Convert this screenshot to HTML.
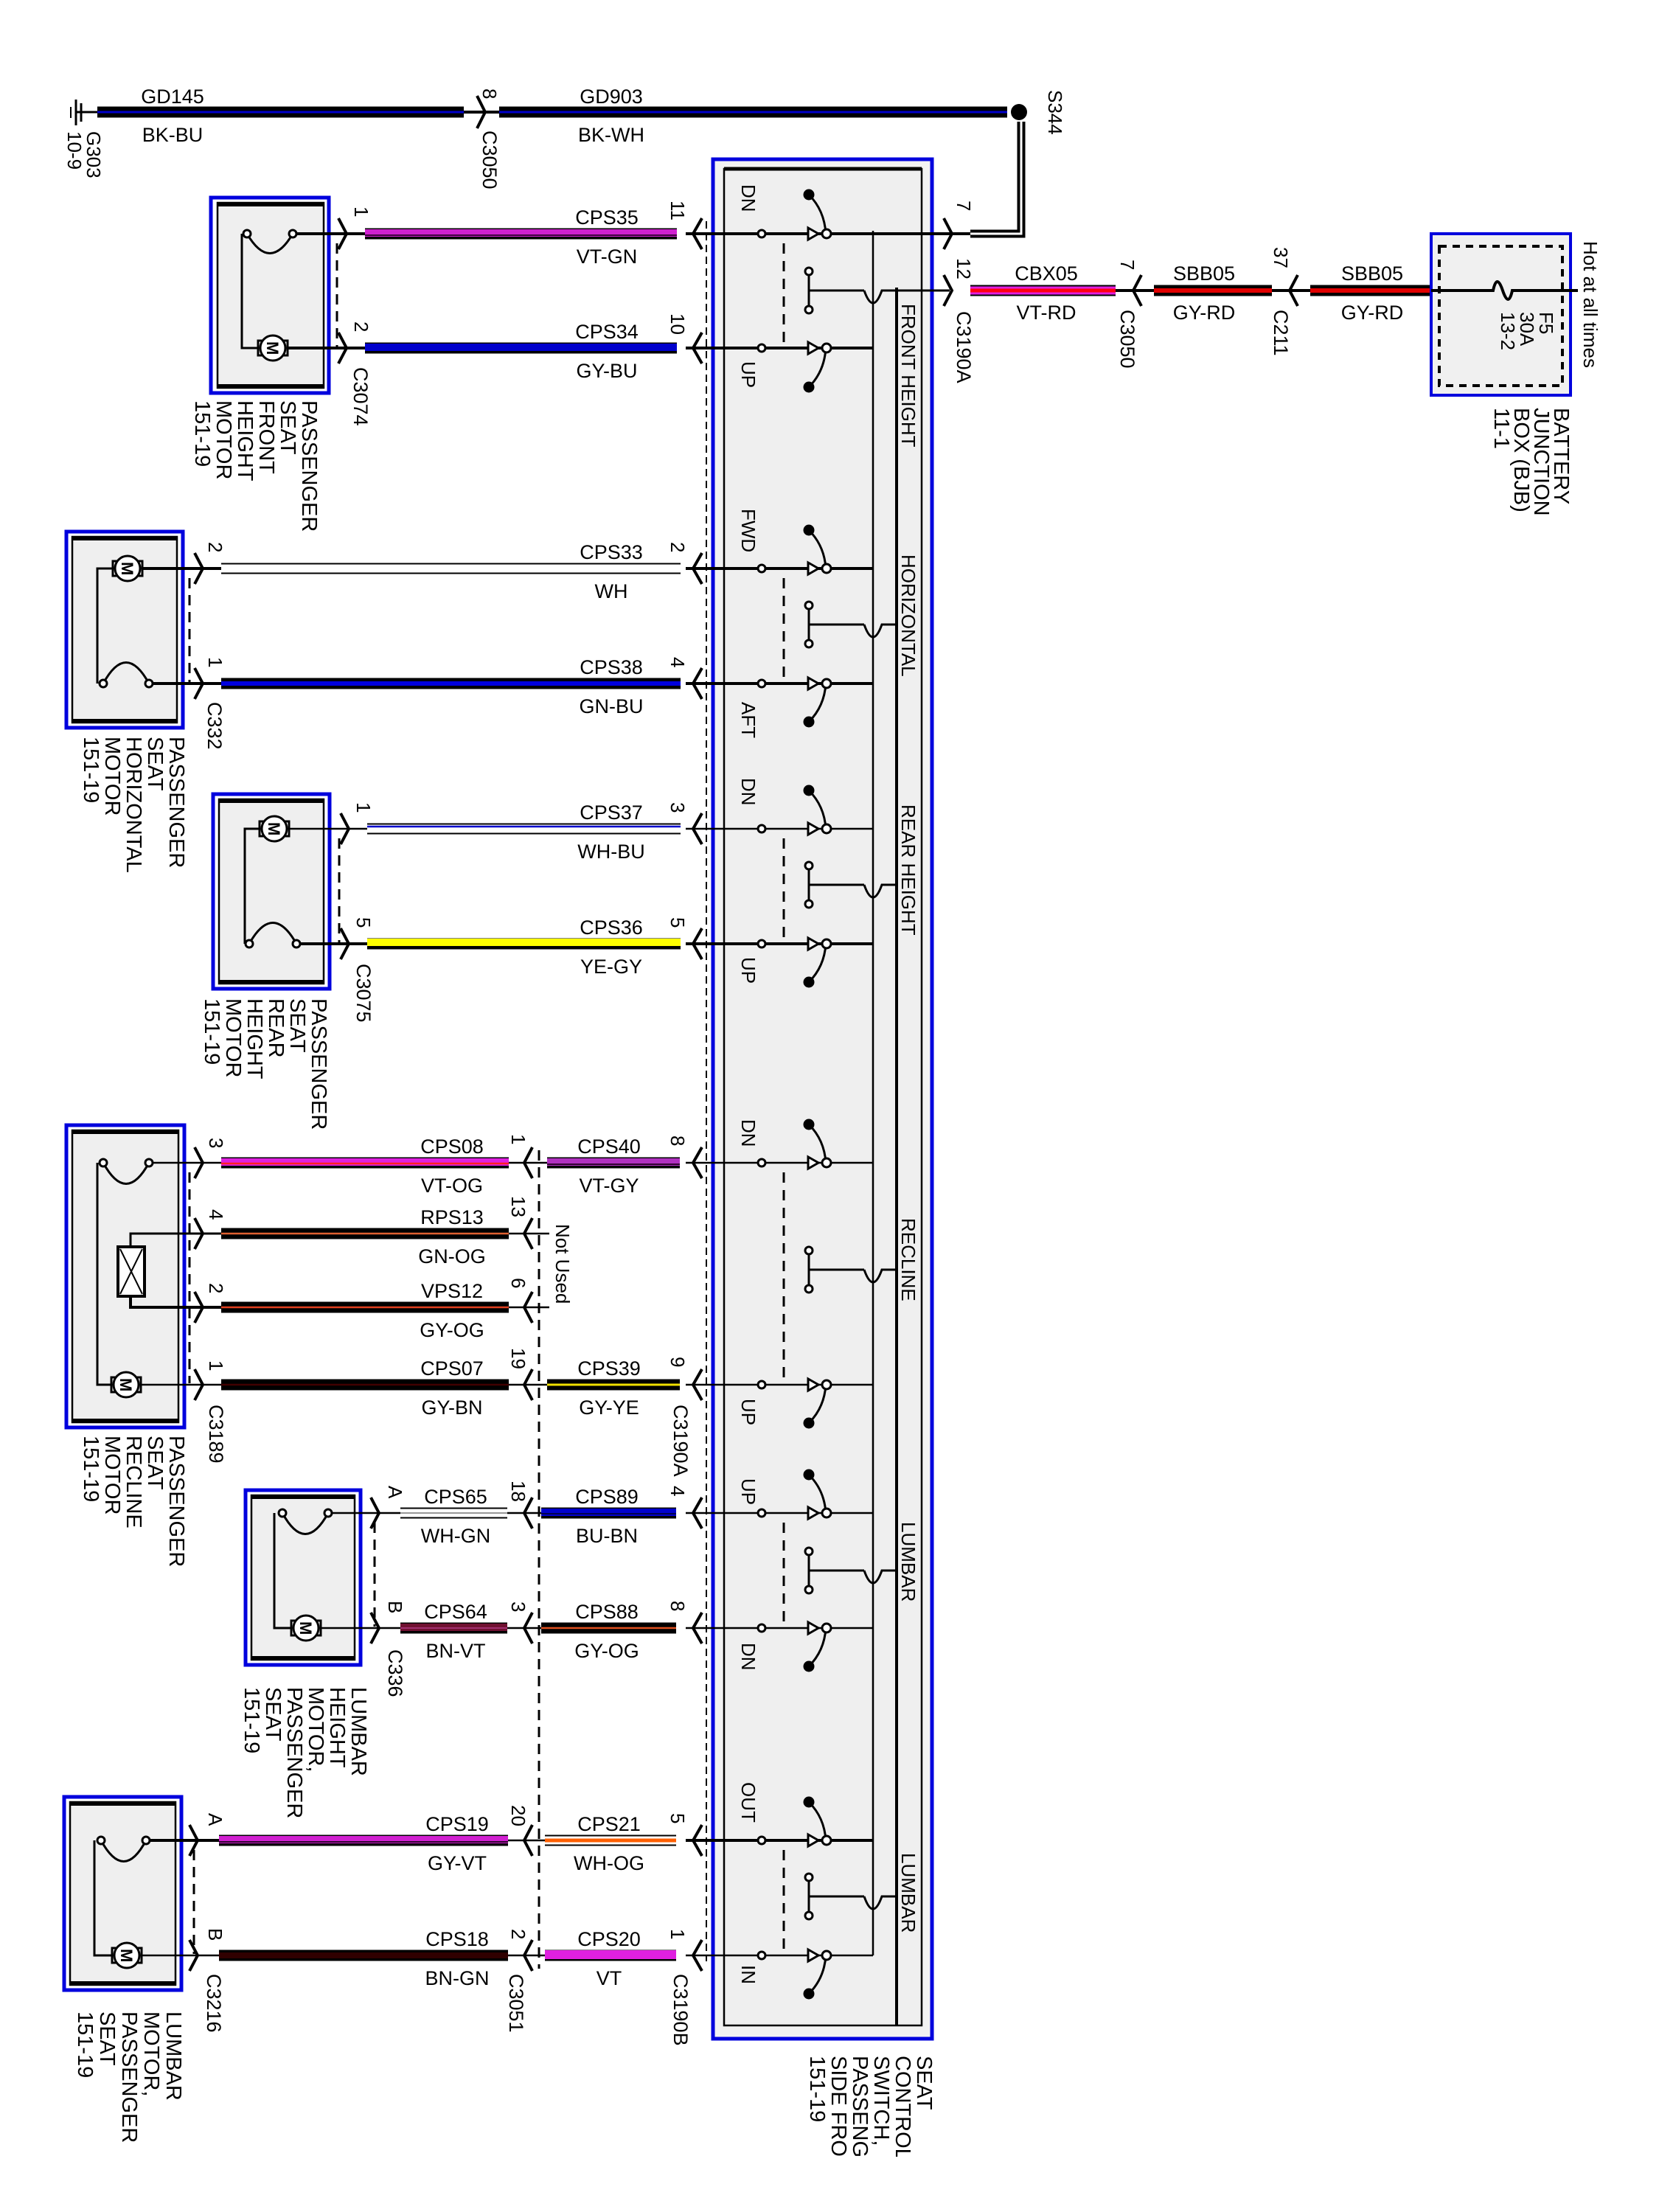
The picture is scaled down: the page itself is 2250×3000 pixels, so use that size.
<!DOCTYPE html>
<html><head><meta charset="utf-8"><style>
html,body{margin:0;padding:0;background:#fff;}
svg{display:block;}
text{font-family:"Liberation Sans",Arial,sans-serif;font-size:27px;fill:#000;}
.lb{font-size:29px;}
.sm{font-size:26px;}
</style></head><body>
<svg width="2250" height="3000" viewBox="0 0 2250 3000" xmlns="http://www.w3.org/2000/svg">
<defs>
<clipPath id="clipb"><rect x="0" y="0" width="2250" height="2925"/></clipPath>
</defs>

<!-- ===== GROUND / TOP ===== -->
<g stroke="#000" stroke-width="3">
<line x1="103" y1="135" x2="103" y2="170"/><line x1="110" y1="140" x2="110" y2="165"/><line x1="96" y1="145" x2="96" y2="160" stroke-width="2"/>
<line x1="103" y1="152" x2="132" y2="152"/>
</g>
<line x1="132" y1="152" x2="629" y2="152" stroke="#000" stroke-width="15"/>
<line x1="132" y1="152" x2="629" y2="152" stroke="#0000cc" stroke-width="3"/>
<line x1="629" y1="152" x2="677" y2="152" stroke="#000" stroke-width="4"/>
<path d="M647,130 L658,152 L647,174" fill="none" stroke="#000" stroke-width="4"/>
<line x1="677" y1="152" x2="1366" y2="152" stroke="#000" stroke-width="15"/>
<line x1="677" y1="152" x2="1366" y2="152" stroke="#0000cc" stroke-width="3"/>
<circle cx="1382" cy="152" r="11" fill="#000"/>
<path d="M1385,165 L1385,317 L1316,317" fill="none" stroke="#000" stroke-width="11"/>
<path d="M1385,165 L1385,317 L1316,317" fill="none" stroke="#fff" stroke-width="3"/>
<text transform="translate(118,178) rotate(90)" class="sm"><tspan x="0">G303</tspan><tspan x="0" dy="26">10-9</tspan></text>
<text x="234" y="140" text-anchor="middle">GD145</text>
<text x="234" y="192" text-anchor="middle">BK-BU</text>
<text x="829" y="140" text-anchor="middle">GD903</text>
<text x="829" y="192" text-anchor="middle">BK-WH</text>
<text transform="translate(655,120) rotate(90)" class="sm">8</text>
<text transform="translate(655,177) rotate(90)">C3050</text>
<text transform="translate(1422,122) rotate(90)" class="sm">S344</text>

<!-- ===== SWITCH BOX ===== -->
<rect x="967" y="216" width="297" height="2549" fill="#f2f2f2" stroke="#0000dd" stroke-width="5"/>
<rect x="982" y="229" width="268" height="2518" fill="#efefef" stroke="#000" stroke-width="2.5"/>
<line x1="982" y1="229" x2="1250" y2="229" stroke="#000" stroke-width="5"/>
<line x1="1184" y1="313" x2="1184" y2="2652" stroke="#000" stroke-width="2.5"/>
<line x1="1216" y1="390" x2="1216" y2="2747" stroke="#000" stroke-width="4"/>
<line x1="958" y1="300" x2="958" y2="2660" stroke="#000" stroke-width="2" stroke-dasharray="10,6"/>

<!-- switch rows -->
<g stroke="#000" fill="none">
<g stroke-width="4">
<line x1="930" y1="317" x2="1316" y2="317"/>
<line x1="930" y1="472" x2="1184" y2="472"/>
<line x1="930" y1="771" x2="1184" y2="771"/>
<line x1="930" y1="927" x2="1184" y2="927"/>
<line x1="930" y1="1280" x2="1184" y2="1280"/>
<line x1="930" y1="2496" x2="1184" y2="2496"/>
</g>
<g stroke-width="2.5">
<line x1="930" y1="1124" x2="1184" y2="1124"/>
<line x1="930" y1="1577" x2="1184" y2="1577"/>
<line x1="930" y1="1878" x2="1184" y2="1878"/>
<line x1="930" y1="2052" x2="1184" y2="2052"/>
<line x1="930" y1="2208" x2="1184" y2="2208"/>
<line x1="930" y1="2652" x2="1184" y2="2652"/>
</g>
<g stroke-width="4">
<path d="M952,296 L940,317 L952,338"/><path d="M952,451 L940,472 L952,493"/>
<path d="M952,750 L940,771 L952,792"/><path d="M952,906 L940,927 L952,948"/>
<path d="M952,1103 L940,1124 L952,1145"/><path d="M952,1259 L940,1280 L952,1301"/>
<path d="M952,1556 L940,1577 L952,1598"/><path d="M952,1857 L940,1878 L952,1899"/>
<path d="M952,2031 L940,2052 L952,2073"/><path d="M952,2187 L940,2208 L952,2229"/>
<path d="M952,2475 L940,2496 L952,2517"/><path d="M952,2631 L940,2652 L952,2673"/>
</g>
<g stroke-width="3" stroke-dasharray="14,10">
<line x1="1063" y1="330" x2="1063" y2="472"/>
<line x1="1063" y1="784" x2="1063" y2="927"/>
<line x1="1063" y1="1137" x2="1063" y2="1280"/>
<line x1="1063" y1="1590" x2="1063" y2="1878"/>
<line x1="1063" y1="2065" x2="1063" y2="2208"/>
<line x1="1063" y1="2509" x2="1063" y2="2652"/>
</g>
<g stroke-width="3">
<path d="M1097,264 Q1118,285 1120,317"/><path d="M1097,719 Q1118,740 1120,771"/><path d="M1097,1072 Q1118,1093 1120,1124"/>
<path d="M1097,1525 Q1118,1546 1120,1577"/><path d="M1097,2000 Q1118,2021 1120,2052"/><path d="M1097,2444 Q1118,2465 1120,2496"/>
<path d="M1097,525 Q1118,504 1120,472"/><path d="M1097,979 Q1118,958 1120,927"/><path d="M1097,1332 Q1118,1311 1120,1280"/>
<path d="M1097,1930 Q1118,1909 1120,1878"/><path d="M1097,2260 Q1118,2239 1120,2208"/><path d="M1097,2704 Q1118,2683 1120,2652"/>
</g>
<g stroke-width="3">
<line x1="1097" y1="368" x2="1097" y2="420"/><line x1="1097" y1="394" x2="1172" y2="394"/><path d="M1172,394 Q1184,428 1196,394 L1288,394"/>
<line x1="1097" y1="821" x2="1097" y2="873"/><line x1="1097" y1="847" x2="1172" y2="847"/><path d="M1172,847 Q1184,881 1196,847 L1216,847"/>
<line x1="1097" y1="1174" x2="1097" y2="1226"/><line x1="1097" y1="1200" x2="1172" y2="1200"/><path d="M1172,1200 Q1184,1234 1196,1200 L1216,1200"/>
<line x1="1097" y1="1696" x2="1097" y2="1748"/><line x1="1097" y1="1722" x2="1172" y2="1722"/><path d="M1172,1722 Q1184,1756 1196,1722 L1216,1722"/>
<line x1="1097" y1="2104" x2="1097" y2="2156"/><line x1="1097" y1="2130" x2="1172" y2="2130"/><path d="M1172,2130 Q1184,2164 1196,2130 L1216,2130"/>
<line x1="1097" y1="2546" x2="1097" y2="2598"/><line x1="1097" y1="2572" x2="1172" y2="2572"/><path d="M1172,2572 Q1184,2606 1196,2572 L1216,2572"/>
</g>
</g>
<g fill="#fff" stroke="#000" stroke-width="3">
<circle cx="1033" cy="317" r="5"/><circle cx="1033" cy="472" r="5"/><circle cx="1033" cy="771" r="5"/><circle cx="1033" cy="927" r="5"/>
<circle cx="1033" cy="1124" r="5"/><circle cx="1033" cy="1280" r="5"/><circle cx="1033" cy="1577" r="5"/><circle cx="1033" cy="1878" r="5"/>
<circle cx="1033" cy="2052" r="5"/><circle cx="1033" cy="2208" r="5"/><circle cx="1033" cy="2496" r="5"/><circle cx="1033" cy="2652" r="5"/>
<path d="M1096,309 L1110,317 L1096,325Z"/><circle cx="1121" cy="317" r="6"/><circle cx="1097" cy="264" r="6" fill="#000"/>
<path d="M1096,464 L1110,472 L1096,480Z"/><circle cx="1121" cy="472" r="6"/><circle cx="1097" cy="525" r="6" fill="#000"/>
<path d="M1096,763 L1110,771 L1096,779Z"/><circle cx="1121" cy="771" r="6"/><circle cx="1097" cy="719" r="6" fill="#000"/>
<path d="M1096,919 L1110,927 L1096,935Z"/><circle cx="1121" cy="927" r="6"/><circle cx="1097" cy="979" r="6" fill="#000"/>
<path d="M1096,1116 L1110,1124 L1096,1132Z"/><circle cx="1121" cy="1124" r="6"/><circle cx="1097" cy="1072" r="6" fill="#000"/>
<path d="M1096,1272 L1110,1280 L1096,1288Z"/><circle cx="1121" cy="1280" r="6"/><circle cx="1097" cy="1332" r="6" fill="#000"/>
<path d="M1096,1569 L1110,1577 L1096,1585Z"/><circle cx="1121" cy="1577" r="6"/><circle cx="1097" cy="1525" r="6" fill="#000"/>
<path d="M1096,1870 L1110,1878 L1096,1886Z"/><circle cx="1121" cy="1878" r="6"/><circle cx="1097" cy="1930" r="6" fill="#000"/>
<path d="M1096,2044 L1110,2052 L1096,2060Z"/><circle cx="1121" cy="2052" r="6"/><circle cx="1097" cy="2000" r="6" fill="#000"/>
<path d="M1096,2200 L1110,2208 L1096,2216Z"/><circle cx="1121" cy="2208" r="6"/><circle cx="1097" cy="2260" r="6" fill="#000"/>
<path d="M1096,2488 L1110,2496 L1096,2504Z"/><circle cx="1121" cy="2496" r="6"/><circle cx="1097" cy="2444" r="6" fill="#000"/>
<path d="M1096,2644 L1110,2652 L1096,2660Z"/><circle cx="1121" cy="2652" r="6"/><circle cx="1097" cy="2704" r="6" fill="#000"/>
<circle cx="1097" cy="368" r="5"/><circle cx="1097" cy="420" r="5"/>
<circle cx="1097" cy="821" r="5"/><circle cx="1097" cy="873" r="5"/>
<circle cx="1097" cy="1174" r="5"/><circle cx="1097" cy="1226" r="5"/>
<circle cx="1097" cy="1696" r="5"/><circle cx="1097" cy="1748" r="5"/>
<circle cx="1097" cy="2104" r="5"/><circle cx="1097" cy="2156" r="5"/>
<circle cx="1097" cy="2546" r="5"/><circle cx="1097" cy="2598" r="5"/>
</g>

<!-- switch labels -->
<text transform="translate(1006,250) rotate(90)" class="sm">DN</text>
<text transform="translate(1006,490) rotate(90)" class="sm">UP</text>
<text transform="translate(1006,690) rotate(90)" class="sm">FWD</text>
<text transform="translate(1006,952) rotate(90)" class="sm">AFT</text>
<text transform="translate(1006,1055) rotate(90)" class="sm">DN</text>
<text transform="translate(1006,1298) rotate(90)" class="sm">UP</text>
<text transform="translate(1006,1518) rotate(90)" class="sm">DN</text>
<text transform="translate(1006,1897) rotate(90)" class="sm">UP</text>
<text transform="translate(1006,2005) rotate(90)" class="sm">UP</text>
<text transform="translate(1006,2228) rotate(90)" class="sm">DN</text>
<text transform="translate(1006,2417) rotate(90)" class="sm">OUT</text>
<text transform="translate(1006,2665) rotate(90)" class="sm">IN</text>
<text transform="translate(1223,412) rotate(90)" class="sm">FRONT HEIGHT</text>
<text transform="translate(1223,752) rotate(90)" class="sm">HORIZONTAL</text>
<text transform="translate(1223,1091) rotate(90)" class="sm">REAR HEIGHT</text>
<text transform="translate(1223,1652) rotate(90)" class="sm">RECLINE</text>
<text transform="translate(1223,2064) rotate(90)" class="sm">LUMBAR</text>
<text transform="translate(1223,2513) rotate(90)" class="sm">LUMBAR</text>
<g clip-path="url(#clipb)">
<text transform="translate(1244,2788) rotate(90)" class="lb"><tspan x="0">SEAT</tspan><tspan x="0" dy="29">CONTROL</tspan><tspan x="0" dy="29">SWITCH,</tspan><tspan x="0" dy="29">PASSENGER</tspan><tspan x="0" dy="29">SIDE FRONT</tspan><tspan x="0" dy="29">151-19</tspan></text>
</g>

<path d="M1280,296 L1291,317 L1280,338" fill="none" stroke="#000" stroke-width="4"/>
<path d="M1280,373 L1291,394 L1280,415" fill="none" stroke="#000" stroke-width="4"/>
<text transform="translate(1298,272) rotate(90)" class="sm">7</text>
<text transform="translate(1298,350) rotate(90)" class="sm">12</text>
<text transform="translate(1298,422) rotate(90)">C3190A</text>

<!-- ===== RIGHT: BJB ===== -->
<line x1="1316" y1="394" x2="1513" y2="394" stroke="#000" stroke-width="15"/>
<line x1="1316" y1="394" x2="1513" y2="394" stroke="#e020e0" stroke-width="11"/>
<line x1="1316" y1="394" x2="1513" y2="394" stroke="#ff0010" stroke-width="5"/>
<line x1="1513" y1="394" x2="1565" y2="394" stroke="#000" stroke-width="4"/>
<path d="M1548,373 L1537,394 L1548,415" fill="none" stroke="#000" stroke-width="4"/>
<line x1="1565" y1="394" x2="1725" y2="394" stroke="#000" stroke-width="15"/>
<line x1="1565" y1="394" x2="1725" y2="394" stroke="#e00000" stroke-width="6"/>
<line x1="1725" y1="394" x2="1777" y2="394" stroke="#000" stroke-width="4"/>
<path d="M1760,373 L1749,394 L1760,415" fill="none" stroke="#000" stroke-width="4"/>
<line x1="1777" y1="394" x2="1941" y2="394" stroke="#000" stroke-width="15"/>
<line x1="1777" y1="394" x2="1941" y2="394" stroke="#e00000" stroke-width="6"/>
<text x="1419" y="380" text-anchor="middle">CBX05</text><text x="1419" y="433" text-anchor="middle">VT-RD</text>
<text x="1633" y="380" text-anchor="middle">SBB05</text><text x="1633" y="433" text-anchor="middle">GY-RD</text>
<text x="1861" y="380" text-anchor="middle">SBB05</text><text x="1861" y="433" text-anchor="middle">GY-RD</text>
<text transform="translate(1520,352) rotate(90)" class="sm">7</text>
<text transform="translate(1520,420) rotate(90)">C3050</text>
<text transform="translate(1728,335) rotate(90)" class="sm">37</text>
<text transform="translate(1728,420) rotate(90)">C211</text>
<rect x="1941" y="317" width="189" height="219" fill="#f0f0f0" stroke="#0000dd" stroke-width="4"/>
<rect x="1952" y="334" width="167" height="189" fill="none" stroke="#000" stroke-width="4" stroke-dasharray="10,8"/>
<path d="M1941,394 L2025,394 Q2030,370 2038,394 Q2046,418 2051,394 L2140,394" fill="none" stroke="#000" stroke-width="4"/>
<text transform="translate(2088,423) rotate(90)" class="sm"><tspan x="0">F5</tspan><tspan x="0" dy="26">30A</tspan><tspan x="0" dy="26">13-2</tspan></text>
<text transform="translate(2148,327) rotate(90)" class="sm">Hot at all times</text>
<text transform="translate(2108,553) rotate(90)" class="lb"><tspan x="0">BATTERY</tspan><tspan x="0" dy="27">JUNCTION</tspan><tspan x="0" dy="27">BOX (BJB)</tspan><tspan x="0" dy="27">11-1</tspan></text>

<!-- ===== COMPONENT BOXES ===== -->
<g stroke="#000" fill="none">
<rect x="286" y="268" width="160" height="265" fill="#fff" stroke="#0000dd" stroke-width="5"/>
<rect x="295" y="275" width="144" height="251" fill="#efefef" stroke-width="2.5"/>
<line x1="295" y1="277" x2="439" y2="277" stroke-width="6"/><line x1="295" y1="524" x2="439" y2="524" stroke-width="6"/>
<rect x="90" y="721" width="158" height="266" fill="#fff" stroke="#0000dd" stroke-width="5"/>
<rect x="98" y="728" width="142" height="252" fill="#efefef" stroke-width="2.5"/>
<line x1="98" y1="730" x2="240" y2="730" stroke-width="6"/><line x1="98" y1="978" x2="240" y2="978" stroke-width="6"/>
<rect x="289" y="1077" width="158" height="264" fill="#fff" stroke="#0000dd" stroke-width="5"/>
<rect x="297" y="1084" width="142" height="250" fill="#efefef" stroke-width="2.5"/>
<line x1="297" y1="1086" x2="439" y2="1086" stroke-width="6"/><line x1="297" y1="1332" x2="439" y2="1332" stroke-width="6"/>
<rect x="90" y="1526" width="160" height="410" fill="#fff" stroke="#0000dd" stroke-width="5"/>
<rect x="98" y="1533" width="144" height="396" fill="#efefef" stroke-width="2.5"/>
<line x1="98" y1="1535" x2="242" y2="1535" stroke-width="6"/><line x1="98" y1="1927" x2="242" y2="1927" stroke-width="6"/>
<rect x="333" y="2021" width="156" height="237" fill="#fff" stroke="#0000dd" stroke-width="5"/>
<rect x="341" y="2028" width="140" height="223" fill="#efefef" stroke-width="2.5"/>
<line x1="341" y1="2030" x2="481" y2="2030" stroke-width="6"/><line x1="341" y1="2249" x2="481" y2="2249" stroke-width="6"/>
<rect x="87" y="2437" width="159" height="262" fill="#fff" stroke="#0000dd" stroke-width="5"/>
<rect x="95" y="2444" width="143" height="248" fill="#efefef" stroke-width="2.5"/>
<line x1="95" y1="2446" x2="238" y2="2446" stroke-width="6"/><line x1="95" y1="2690" x2="238" y2="2690" stroke-width="6"/>

<g stroke-width="3">
<path d="M328,317 L328,472 L352,472"/><path d="M335,317 Q366,370 397,317"/><line x1="397" y1="317" x2="495" y2="317" stroke-width="4"/><line x1="388" y1="472" x2="495" y2="472" stroke-width="4"/>
<path d="M132,927 L132,771 L155,771"/><path d="M140,927 Q171,870 202,927"/><line x1="202" y1="927" x2="300" y2="927" stroke-width="4"/><line x1="191" y1="771" x2="300" y2="771" stroke-width="4"/>
<path d="M332,1280 L332,1124 L354,1124"/><path d="M338,1280 Q370,1223 402,1280"/><line x1="402" y1="1280" x2="498" y2="1280" stroke-width="4"/><line x1="390" y1="1124" x2="498" y2="1124" stroke-width="2.5"/>
<path d="M132,1577 L132,1878 L153,1878"/><path d="M140,1577 Q171,1634 202,1577"/><line x1="202" y1="1577" x2="300" y2="1577" stroke-width="2.5"/><line x1="189" y1="1878" x2="300" y2="1878" stroke-width="2.5"/>
<path d="M300,1673 L177,1673 L177,1691"/><path d="M300,1773 L177,1773 L177,1758" stroke-width="4"/>
<path d="M372,2052 L372,2208 L397,2208"/><path d="M383,2052 Q414,2109 445,2052"/><line x1="445" y1="2052" x2="543" y2="2052" stroke-width="2.5"/><line x1="433" y1="2208" x2="543" y2="2208" stroke-width="2.5"/>
<path d="M128,2496 L128,2652 L154,2652"/><path d="M137,2496 Q168,2553 198,2496"/><line x1="198" y1="2496" x2="297" y2="2496" stroke-width="4"/><line x1="190" y1="2652" x2="297" y2="2652" stroke-width="2.5"/>
</g>
<rect x="160" y="1691" width="36" height="67" fill="#fff" stroke-width="4"/>
<path d="M163,1694 L193,1755 M193,1694 L163,1755" stroke-width="2"/>
</g>
<g fill="#fff" stroke="#000" stroke-width="3">
<circle cx="335" cy="317" r="5"/><circle cx="397" cy="317" r="5"/>
<circle cx="140" cy="927" r="5"/><circle cx="202" cy="927" r="5"/>
<circle cx="338" cy="1280" r="5"/><circle cx="402" cy="1280" r="5"/>
<circle cx="140" cy="1577" r="5"/><circle cx="202" cy="1577" r="5"/>
<circle cx="383" cy="2052" r="5"/><circle cx="445" cy="2052" r="5"/>
<circle cx="137" cy="2496" r="5"/><circle cx="198" cy="2496" r="5"/>
</g>
<g fill="#fff" stroke="#000" stroke-width="3">
<rect x="350" y="462" width="40" height="20"/><circle cx="370" cy="472" r="17"/>
<rect x="153" y="761" width="40" height="20"/><circle cx="173" cy="771" r="17"/>
<rect x="352" y="1114" width="40" height="20"/><circle cx="372" cy="1124" r="17"/>
<rect x="151" y="1868" width="40" height="20"/><circle cx="171" cy="1878" r="17"/>
<rect x="395" y="2198" width="40" height="20"/><circle cx="415" cy="2208" r="17"/>
<rect x="152" y="2642" width="40" height="20"/><circle cx="172" cy="2652" r="17"/>
</g>
<text transform="translate(362,463) rotate(90)" style="font-size:22px;font-weight:bold">M</text>
<text transform="translate(165,762) rotate(90)" style="font-size:22px;font-weight:bold">M</text>
<text transform="translate(364,1115) rotate(90)" style="font-size:22px;font-weight:bold">M</text>
<text transform="translate(163,1869) rotate(90)" style="font-size:22px;font-weight:bold">M</text>
<text transform="translate(407,2199) rotate(90)" style="font-size:22px;font-weight:bold">M</text>
<text transform="translate(164,2643) rotate(90)" style="font-size:22px;font-weight:bold">M</text>

<g fill="none" stroke="#000" stroke-width="4">
<path d="M459,296 L470,317 L459,338"/><path d="M459,451 L470,472 L459,493"/>
<path d="M264,750 L275,771 L264,792"/><path d="M264,906 L275,927 L264,948"/>
<path d="M462,1103 L473,1124 L462,1145"/><path d="M462,1259 L473,1280 L462,1301"/>
<path d="M264,1556 L275,1577 L264,1598"/><path d="M264,1652 L275,1673 L264,1694"/><path d="M264,1752 L275,1773 L264,1794"/><path d="M264,1857 L275,1878 L264,1899"/>
<path d="M503,2031 L514,2052 L503,2073"/><path d="M503,2187 L514,2208 L503,2229"/>
<path d="M257,2475 L268,2496 L257,2517"/><path d="M257,2631 L268,2652 L257,2673"/>
<path d="M722,1556 L711,1577 L722,1598"/><path d="M722,1652 L711,1673 L722,1694"/><path d="M722,1752 L711,1773 L722,1794"/><path d="M722,1857 L711,1878 L722,1899"/>
<path d="M722,2031 L711,2052 L722,2073"/><path d="M722,2187 L711,2208 L722,2229"/>
<path d="M722,2475 L711,2496 L722,2517"/><path d="M722,2631 L711,2652 L722,2673"/>
</g>
<g stroke="#000" stroke-width="2.5">
<line x1="690" y1="1577" x2="742" y2="1577"/><line x1="690" y1="1673" x2="745" y2="1673"/><line x1="690" y1="1773" x2="745" y2="1773"/><line x1="690" y1="1878" x2="742" y2="1878"/>
<line x1="688" y1="2052" x2="734" y2="2052"/><line x1="688" y1="2208" x2="734" y2="2208"/>
<line x1="689" y1="2496" x2="739" y2="2496"/><line x1="689" y1="2652" x2="739" y2="2652"/>
</g>
<g stroke="#000" stroke-width="3" stroke-dasharray="14,9">
<line x1="457" y1="330" x2="457" y2="470"/>
<line x1="257" y1="784" x2="257" y2="925"/>
<line x1="460" y1="1137" x2="460" y2="1278"/>
<line x1="257" y1="1590" x2="257" y2="1876"/>
<line x1="508" y1="2065" x2="508" y2="2206"/>
<line x1="263" y1="2509" x2="263" y2="2650"/>
<line x1="731" y1="1560" x2="731" y2="2670"/>
</g>

<!-- ===== WIRES ===== -->
<g>
<line x1="495" y1="317" x2="918" y2="317" stroke="#000" stroke-width="15"/><line x1="495" y1="316" x2="918" y2="316" stroke="#d020d0" stroke-width="10"/><line x1="495" y1="319" x2="918" y2="319" stroke="#400040" stroke-width="2"/>
<line x1="495" y1="472" x2="918" y2="472" stroke="#000" stroke-width="15"/><line x1="495" y1="471" x2="918" y2="471" stroke="#0000cc" stroke-width="10"/>
<line x1="300" y1="771" x2="923" y2="771" stroke="#000" stroke-width="15"/><line x1="300" y1="771" x2="923" y2="771" stroke="#fff" stroke-width="11"/>
<line x1="300" y1="927" x2="923" y2="927" stroke="#000" stroke-width="15"/><line x1="300" y1="927" x2="923" y2="927" stroke="#0000dd" stroke-width="6"/>
<line x1="498" y1="1124" x2="923" y2="1124" stroke="#000" stroke-width="15"/><line x1="498" y1="1124" x2="923" y2="1124" stroke="#fff" stroke-width="11"/><line x1="498" y1="1121" x2="923" y2="1121" stroke="#0000cc" stroke-width="2.5"/>
<line x1="498" y1="1280" x2="923" y2="1280" stroke="#000" stroke-width="15"/><line x1="498" y1="1278" x2="923" y2="1278" stroke="#ffff00" stroke-width="10"/>
<line x1="300" y1="1577" x2="690" y2="1577" stroke="#000" stroke-width="15"/><line x1="300" y1="1576" x2="690" y2="1576" stroke="#e020e0" stroke-width="10"/><line x1="300" y1="1578" x2="690" y2="1578" stroke="#ff2020" stroke-width="2.5"/>
<line x1="742" y1="1577" x2="922" y2="1577" stroke="#000" stroke-width="15"/><line x1="742" y1="1576" x2="922" y2="1576" stroke="#b030c0" stroke-width="10"/><line x1="742" y1="1579" x2="922" y2="1579" stroke="#300030" stroke-width="2"/>
<line x1="300" y1="1673" x2="690" y2="1673" stroke="#000" stroke-width="15"/><line x1="300" y1="1673" x2="690" y2="1673" stroke="#e06030" stroke-width="2.5"/>
<line x1="300" y1="1773" x2="690" y2="1773" stroke="#000" stroke-width="15"/><line x1="300" y1="1773" x2="690" y2="1773" stroke="#e04020" stroke-width="2.5"/>
<line x1="300" y1="1878" x2="690" y2="1878" stroke="#000" stroke-width="15"/><line x1="300" y1="1878" x2="690" y2="1878" stroke="#400000" stroke-width="2.5"/>
<line x1="742" y1="1878" x2="922" y2="1878" stroke="#000" stroke-width="15"/><line x1="742" y1="1878" x2="922" y2="1878" stroke="#f0e000" stroke-width="3"/>
<line x1="543" y1="2052" x2="688" y2="2052" stroke="#000" stroke-width="15"/><line x1="543" y1="2052" x2="688" y2="2052" stroke="#fff" stroke-width="11"/><line x1="543" y1="2052" x2="688" y2="2052" stroke="#999" stroke-width="2"/>
<line x1="734" y1="2052" x2="917" y2="2052" stroke="#000" stroke-width="15"/><line x1="734" y1="2051" x2="917" y2="2051" stroke="#0000cc" stroke-width="10"/><line x1="734" y1="2053" x2="917" y2="2053" stroke="#000050" stroke-width="2"/>
<line x1="543" y1="2208" x2="688" y2="2208" stroke="#000" stroke-width="15"/><line x1="543" y1="2207" x2="688" y2="2207" stroke="#701030" stroke-width="10"/><line x1="543" y1="2208" x2="688" y2="2208" stroke="#a03070" stroke-width="2"/>
<line x1="734" y1="2208" x2="917" y2="2208" stroke="#000" stroke-width="15"/><line x1="734" y1="2208" x2="917" y2="2208" stroke="#e05020" stroke-width="2.5"/>
<line x1="297" y1="2496" x2="689" y2="2496" stroke="#000" stroke-width="15"/><line x1="297" y1="2495" x2="689" y2="2495" stroke="#d020d0" stroke-width="10"/><line x1="297" y1="2498" x2="689" y2="2498" stroke="#300030" stroke-width="2"/>
<line x1="739" y1="2496" x2="917" y2="2496" stroke="#000" stroke-width="15"/><line x1="739" y1="2496" x2="917" y2="2496" stroke="#fff" stroke-width="11"/><line x1="739" y1="2496" x2="917" y2="2496" stroke="#ff6000" stroke-width="5"/>
<line x1="297" y1="2652" x2="689" y2="2652" stroke="#000" stroke-width="15"/><line x1="297" y1="2652" x2="689" y2="2652" stroke="#300000" stroke-width="8"/>
<line x1="739" y1="2652" x2="917" y2="2652" stroke="#000" stroke-width="15"/><line x1="739" y1="2651" x2="917" y2="2651" stroke="#e020e0" stroke-width="12"/>
</g>

<!-- ===== WIRE LABELS ===== -->
<g text-anchor="middle">
<text x="823" y="304">CPS35</text><text x="823" y="357">VT-GN</text>
<text x="823" y="459">CPS34</text><text x="823" y="512">GY-BU</text>
<text x="829" y="758">CPS33</text><text x="829" y="811">WH</text>
<text x="829" y="914">CPS38</text><text x="829" y="967">GN-BU</text>
<text x="829" y="1111">CPS37</text><text x="829" y="1164">WH-BU</text>
<text x="829" y="1267">CPS36</text><text x="829" y="1320">YE-GY</text>
<text x="613" y="1564">CPS08</text><text x="613" y="1617">VT-OG</text>
<text x="826" y="1564">CPS40</text><text x="826" y="1617">VT-GY</text>
<text x="613" y="1660">RPS13</text><text x="613" y="1713">GN-OG</text>
<text x="613" y="1760">VPS12</text><text x="613" y="1813">GY-OG</text>
<text x="613" y="1865">CPS07</text><text x="613" y="1918">GY-BN</text>
<text x="826" y="1865">CPS39</text><text x="826" y="1918">GY-YE</text>
<text x="618" y="2039">CPS65</text><text x="618" y="2092">WH-GN</text>
<text x="823" y="2039">CPS89</text><text x="823" y="2092">BU-BN</text>
<text x="618" y="2195">CPS64</text><text x="618" y="2248">BN-VT</text>
<text x="823" y="2195">CPS88</text><text x="823" y="2248">GY-OG</text>
<text x="620" y="2483">CPS19</text><text x="620" y="2536">GY-VT</text>
<text x="826" y="2483">CPS21</text><text x="826" y="2536">WH-OG</text>
<text x="620" y="2639">CPS18</text><text x="620" y="2692">BN-GN</text>
<text x="826" y="2639">CPS20</text><text x="826" y="2692">VT</text>
</g>

<!-- ===== PIN NUMBERS ===== -->
<text transform="translate(481,280) rotate(90)" class="sm">1</text>
<text transform="translate(481,436) rotate(90)" class="sm">2</text>
<text transform="translate(910,272) rotate(90)" class="sm">11</text>
<text transform="translate(910,425) rotate(90)" class="sm">10</text>
<text transform="translate(283,735) rotate(90)" class="sm">2</text>
<text transform="translate(283,891) rotate(90)" class="sm">1</text>
<text transform="translate(910,735) rotate(90)" class="sm">2</text>
<text transform="translate(910,891) rotate(90)" class="sm">4</text>
<text transform="translate(484,1088) rotate(90)" class="sm">1</text>
<text transform="translate(484,1244) rotate(90)" class="sm">5</text>
<text transform="translate(910,1088) rotate(90)" class="sm">3</text>
<text transform="translate(910,1244) rotate(90)" class="sm">5</text>
<text transform="translate(284,1543) rotate(90)" class="sm">3</text>
<text transform="translate(284,1640) rotate(90)" class="sm">4</text>
<text transform="translate(284,1740) rotate(90)" class="sm">2</text>
<text transform="translate(284,1845) rotate(90)" class="sm">1</text>
<text transform="translate(694,1538) rotate(90)" class="sm">1</text>
<text transform="translate(694,1622) rotate(90)" class="sm">13</text>
<text transform="translate(694,1733) rotate(90)" class="sm">6</text>
<text transform="translate(694,1828) rotate(90)" class="sm">19</text>
<text transform="translate(910,1540) rotate(90)" class="sm">8</text>
<text transform="translate(910,1840) rotate(90)" class="sm">9</text>
<text transform="translate(754,1660) rotate(90)" class="sm">Not Used</text>
<text transform="translate(527,2015) rotate(90)" class="sm">A</text>
<text transform="translate(527,2171) rotate(90)" class="sm">B</text>
<text transform="translate(694,2008) rotate(90)" class="sm">18</text>
<text transform="translate(694,2172) rotate(90)" class="sm">3</text>
<text transform="translate(910,2015) rotate(90)" class="sm">4</text>
<text transform="translate(910,2171) rotate(90)" class="sm">8</text>
<text transform="translate(283,2459) rotate(90)" class="sm">A</text>
<text transform="translate(283,2615) rotate(90)" class="sm">B</text>
<text transform="translate(694,2448) rotate(90)" class="sm">20</text>
<text transform="translate(694,2616) rotate(90)" class="sm">2</text>
<text transform="translate(910,2459) rotate(90)" class="sm">5</text>
<text transform="translate(910,2616) rotate(90)" class="sm">1</text>

<text transform="translate(480,498) rotate(90)">C3074</text>
<text transform="translate(282,952) rotate(90)">C332</text>
<text transform="translate(484,1307) rotate(90)">C3075</text>
<text transform="translate(284,1905) rotate(90)">C3189</text>
<text transform="translate(914,1905) rotate(90)">C3190A</text>
<text transform="translate(527,2237) rotate(90)">C336</text>
<text transform="translate(281,2677) rotate(90)">C3216</text>
<text transform="translate(691,2677) rotate(90)">C3051</text>
<text transform="translate(914,2677) rotate(90)">C3190B</text>

<text transform="translate(410,543) rotate(90)" class="lb"><tspan x="0">PASSENGER</tspan><tspan x="0" dy="29">SEAT</tspan><tspan x="0" dy="29">FRONT</tspan><tspan x="0" dy="29">HEIGHT</tspan><tspan x="0" dy="29">MOTOR</tspan><tspan x="0" dy="29">151-19</tspan></text>
<text transform="translate(230,999) rotate(90)" class="lb"><tspan x="0">PASSENGER</tspan><tspan x="0" dy="29">SEAT</tspan><tspan x="0" dy="29">HORIZONTAL</tspan><tspan x="0" dy="29">MOTOR</tspan><tspan x="0" dy="29">151-19</tspan></text>
<text transform="translate(423,1354) rotate(90)" class="lb"><tspan x="0">PASSENGER</tspan><tspan x="0" dy="29">SEAT</tspan><tspan x="0" dy="29">REAR</tspan><tspan x="0" dy="29">HEIGHT</tspan><tspan x="0" dy="29">MOTOR</tspan><tspan x="0" dy="29">151-19</tspan></text>
<text transform="translate(230,1947) rotate(90)" class="lb"><tspan x="0">PASSENGER</tspan><tspan x="0" dy="29">SEAT</tspan><tspan x="0" dy="29">RECLINE</tspan><tspan x="0" dy="29">MOTOR</tspan><tspan x="0" dy="29">151-19</tspan></text>
<text transform="translate(477,2288) rotate(90)" class="lb"><tspan x="0">LUMBAR</tspan><tspan x="0" dy="29">HEIGHT</tspan><tspan x="0" dy="29">MOTOR,</tspan><tspan x="0" dy="29">PASSENGER</tspan><tspan x="0" dy="29">SEAT</tspan><tspan x="0" dy="29">151-19</tspan></text>
<text transform="translate(226,2728) rotate(90)" class="lb"><tspan x="0">LUMBAR</tspan><tspan x="0" dy="30">MOTOR,</tspan><tspan x="0" dy="30">PASSENGER</tspan><tspan x="0" dy="30">SEAT</tspan><tspan x="0" dy="30">151-19</tspan></text>
</svg>
</body></html>
